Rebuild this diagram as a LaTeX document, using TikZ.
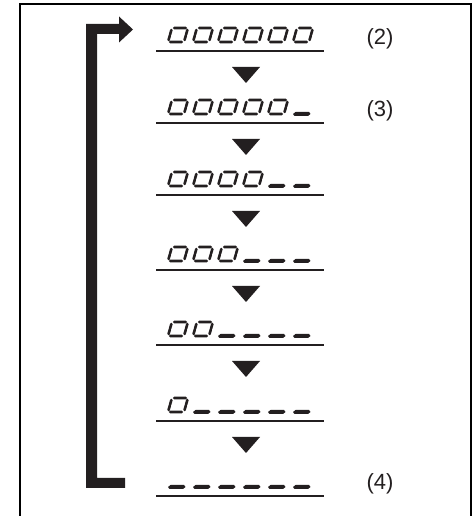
\documentclass[tikz,border=0pt]{standalone}
\usepackage{fontspec}
\setmainfont{Liberation Sans}
\definecolor{ink}{HTML}{231F20}
\tikzset{
  seg/.style={line width=2.6pt, draw=ink, line cap=round},
  ruleline/.style={line width=1.8pt, draw=ink},
  stepmark/.style={fill=ink},
  framebox/.style={line width=2pt, draw=black},
  lbl/.style={font=\fontsize{22}{26}\selectfont, text=ink, inner sep=0pt},
}
\newcommand\sevzero[2]{%
  \begin{scope}[shift={(#1,#2)}, xslant=0.28]
    \draw[seg] (2.2,0)--(13.8,0) (2.2,14)--(13.8,14)
               (0,2)--(0,6.6) (0,7.4)--(0,12)
               (16,2)--(16,6.6) (16,7.4)--(16,12);
  \end{scope}}
\newcommand\sevblank[2]{%
  \begin{scope}[shift={(#1,#2)}, xslant=0.28]
    \fill[ink] (0,0)--(2,2)--(15.5,2)--(17.5,0)--(15.5,-2)--(2,-2)--cycle;
  \end{scope}}
\begin{document}
\begin{tikzpicture}[x=1pt,y=1pt]
  \useasboundingbox (0,0) rectangle (473,516);
  % frame (bottom edge lies outside the picture)
  \draw[framebox] (19.5,-2)--(19.5,511.5)--(471,511.5)--(471,-2);
  % return bracket arrow
  \fill[ink] (86,28)--(86,492)--(119,492)--(119,499.5)--(133,486.5)--(119,473.5)
             --(119,482)--(97,482)--(97,38)--(125,38)--(125,28)--cycle;
  % rows
  \foreach \k/\uy in {0/465,1/393,2/321,3/246,4/171,5/95,6/20} {
    \draw[ruleline] (156,\uy)--(324,\uy);
    \pgfmathtruncatemacro\nz{6-\k}
    \foreach \i in {0,...,5} {
      \ifnum\i<\nz\relax
        \sevzero{168+25*\i}{\uy+9}
      \else
        \sevblank{168+25*\i}{\uy+9}
      \fi
    }
  }
  % step triangles
  \foreach \uy in {465,393,321,246,171,95} {
    \fill[stepmark] (232,\uy-16)--(260,\uy-16)--(246,\uy-32)--cycle;
  }
  % labels
  \node[lbl] (l2) at (380,477) {(2)};
  \node[lbl] (l3) at (380,405) {(3)};
  \node[lbl] (l4) at (380,32) {(4)};
\end{tikzpicture}
\end{document}
